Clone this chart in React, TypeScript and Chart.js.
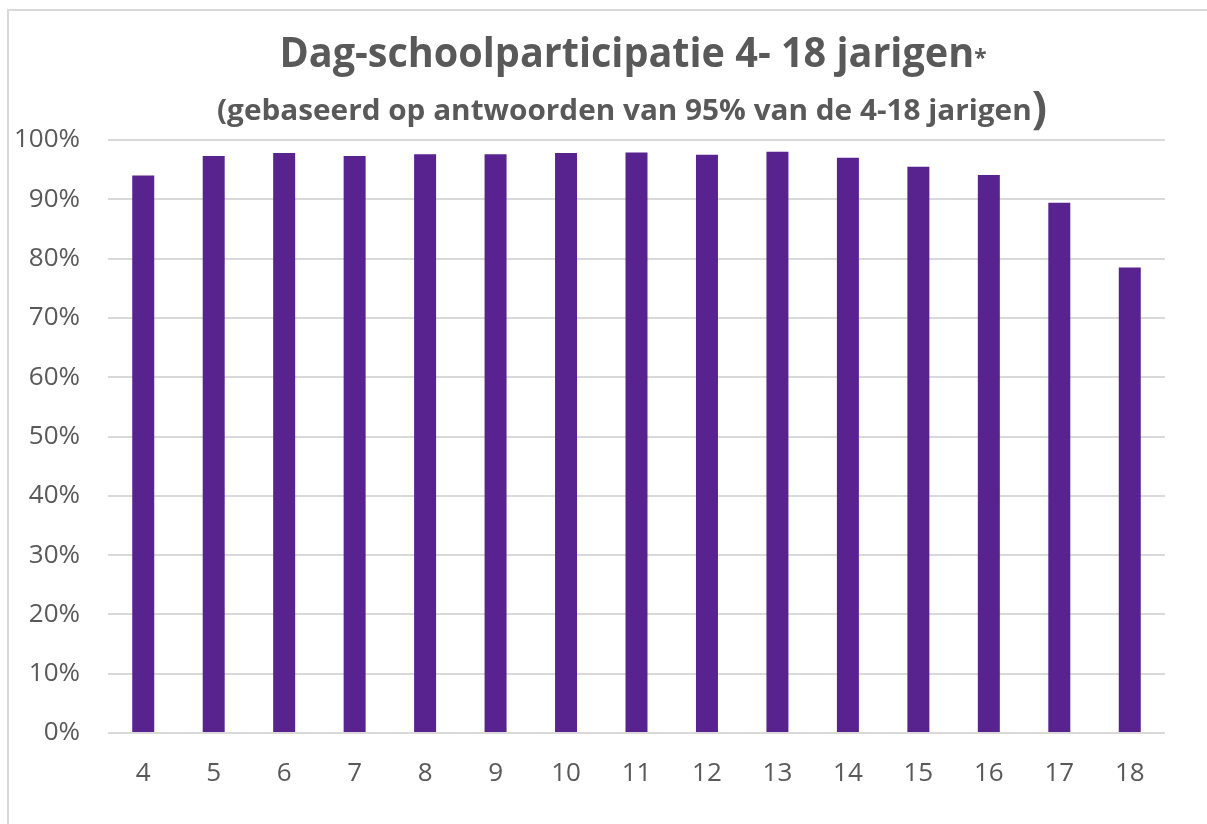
import React, { useEffect, useRef } from "react";
import { Chart, registerables } from "chart.js";

Chart.register(...registerables);

const ages: string[] = ["4", "5", "6", "7", "8", "9", "10", "11", "12", "13", "14", "15", "16", "17", "18"];
const participation: number[] = [94.0, 97.3, 97.8, 97.3, 97.6, 97.6, 97.8, 97.9, 97.5, 98.0, 97.0, 95.5, 94.1, 89.4, 78.5];
const yTicks: number[] = [0, 10, 20, 30, 40, 50, 60, 70, 80, 90, 100];

const titleMain = "Dag-schoolparticipatie 4- 18 jarigen";
const titleMark = "*";
const subtitleMain = "(gebaseerd op antwoorden van 95% van de 4-18 jarigen";
const subtitleClose = ")";

const TEXT = "#595959";
const BAR = "#58238F";
const GRID = "#d9d9d9";

type Seg = { text: string; font: string; dy: number };

function drawRich(ctx: CanvasRenderingContext2D, segs: Seg[], cx: number, baseline: number, target: number) {
  let natural = 0;
  const widths: number[] = [];
  for (const s of segs) {
    ctx.font = s.font;
    const w = ctx.measureText(s.text).width;
    widths.push(w);
    natural += w;
  }
  const sx = target / natural;
  ctx.save();
  ctx.translate(cx - target / 2, baseline);
  ctx.scale(sx, 1);
  ctx.textBaseline = "alphabetic";
  ctx.textAlign = "left";
  let x = 0;
  segs.forEach((s, i) => {
    ctx.font = s.font;
    ctx.fillText(s.text, x, s.dy);
    x += widths[i];
  });
  ctx.restore();
}

const titlePlugin = {
  id: "richTitle",
  afterDraw(chart: any) {
    const ctx: CanvasRenderingContext2D = chart.ctx;
    ctx.save();
    ctx.fillStyle = TEXT;
    drawRich(
      ctx,
      [
        { text: titleMain, font: 'bold 42px "Open Sans"', dy: 0 },
        { text: titleMark, font: 'bold 24px "Open Sans"', dy: -1 },
      ],
      624,
      56,
      707
    );
    drawRich(
      ctx,
      [
        { text: subtitleMain, font: 'bold 29px "Open Sans"', dy: 0 },
        { text: subtitleClose, font: 'bold 44px "Open Sans"', dy: 3 },
      ],
      623,
      109,
      830
    );
    ctx.restore();
  },
};

export default function App() {
  const ref = useRef<HTMLCanvasElement | null>(null);
  useEffect(() => {
    if (!ref.current) return;
    const chart = new Chart(ref.current, {
      type: "bar",
      data: {
        labels: ages,
        datasets: [
          {
            data: participation,
            backgroundColor: BAR,
            borderWidth: 0,
            barPercentage: 0.312,
            categoryPercentage: 1,
          },
        ],
      },
      options: {
        animation: false,
        responsive: true,
        maintainAspectRatio: false,
        layout: { padding: { top: 129, left: 0, right: 42, bottom: 31 } },
        plugins: {
          legend: { display: false },
          title: { display: false },
          tooltip: { enabled: false },
        },
        scales: {
          x: {
            grid: { display: false, drawTicks: false },
            border: { display: false },
            ticks: {
              color: TEXT,
              font: { family: '"Open Sans"', size: 26 },
              padding: 25,
              maxRotation: 0,
            },
            afterFit(scale: any) {
              scale.height = 60;
            },
          },
          y: {
            min: 0,
            max: 100,
            afterBuildTicks(scale: any) {
              scale.ticks = yTicks.map((v) => ({ value: v }));
            },
            grid: { color: GRID, lineWidth: 2, drawTicks: false },
            border: { display: false },
            ticks: {
              color: TEXT,
              font: { family: '"Open Sans"', size: 26 },
              padding: 28,
              callback: (v: any) => `${v}%`,
            },
            afterFit(scale: any) {
              scale.width = 99;
            },
          },
        },
      },
      plugins: [titlePlugin],
    });
    return () => chart.destroy();
  }, []);

  return (
    <div
      style={{
        position: "fixed",
        left: 7,
        top: 9,
        width: 1200,
        height: 815,
        boxSizing: "border-box",
        borderTop: `2px solid ${GRID}`,
        borderLeft: `2px solid ${GRID}`,
        background: "#fff",
      }}
    >
      <div style={{ position: "relative", width: "100%", height: "100%" }}>
        <canvas ref={ref} />
      </div>
    </div>
  );
}
